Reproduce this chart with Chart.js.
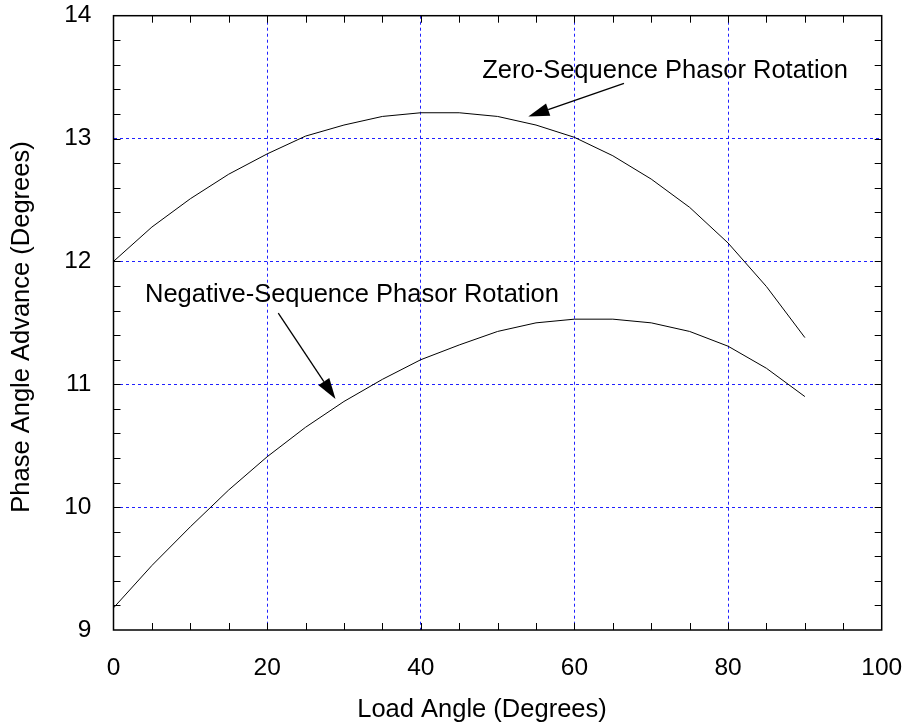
<!DOCTYPE html>
<html>
<head>
<meta charset="utf-8">
<script src="https://cdn.jsdelivr.net/npm/chart.js@4.4.0/dist/chart.umd.min.js"></script>
<style>
  html, body { margin: 0; padding: 0; background: #fff; }
  #wrap { width: 906px; height: 727px; }
</style>
</head>
<body>
<div id="wrap"><canvas id="phasorChart" width="906" height="727"></canvas></div>
<script>
// Data
const loadAngles = [0, 5, 10, 15, 20, 25, 30, 35, 40, 45, 50, 55, 60, 65, 70, 75, 80, 85, 90];
const zeroSeq = [12.0, 12.28, 12.51, 12.71, 12.875, 13.02, 13.11, 13.18, 13.21, 13.21,
  13.18, 13.11, 13.01, 12.86, 12.67, 12.44, 12.15, 11.795, 11.38];
const negSeq = [9.18, 9.525, 9.84, 10.14, 10.41, 10.65, 10.86, 11.04, 11.2, 11.32,
  11.43, 11.5, 11.53, 11.53, 11.5, 11.43, 11.31, 11.13, 10.9];

const xTicks = [0, 20, 40, 60, 80, 100];
const yTicks = [9, 10, 11, 12, 13, 14];

const xTitle = "Load Angle (Degrees)";
const yTitle = "Phase Angle Advance (Degrees)";

// Annotations, in data units
const labels = [
  { text: "Zero-Sequence Phasor Rotation", x: 48.0, y: 13.49 },
  { text: "Negative-Sequence Phasor Rotation", x: 4.1, y: 11.673 },
];
const arrows = [
  { from: [66.45, 13.45], to: [54.0, 13.18] },
  { from: [21.45, 11.58], to: [28.9, 10.88] },
];

const FONT = "'Liberation Sans', Arial, Helvetica, sans-serif";
const GRID_BLUE = "#2020ff";

function toPoints(ys) {
  return loadAngles.map((x, i) => ({ x: x, y: ys[i] }));
}

// frame, minor ticks, annotations and axis titles
const decorPlugin = {
  id: "decor",
  afterDraw(chart) {
    const ctx = chart.ctx;
    const area = chart.chartArea;
    const xs = chart.scales.x;
    const ys = chart.scales.y;
    ctx.save();

    // inward ticks on all four sides
    ctx.strokeStyle = "#000";
    ctx.lineWidth = 1;
    ctx.beginPath();
    for (let v = 5; v < 100; v += 5) {
      const px = Math.round(xs.getPixelForValue(v)) + 0.5;
      ctx.moveTo(px, area.bottom);
      ctx.lineTo(px, area.bottom - 7);
      ctx.moveTo(px, area.top);
      ctx.lineTo(px, area.top + 7);
    }
    for (let k = 1; k < 25; k++) {
      const py = Math.round(ys.getPixelForValue(9 + k * 0.2)) + 0.5;
      ctx.moveTo(area.left, py);
      ctx.lineTo(area.left + 7, py);
      ctx.moveTo(area.right, py);
      ctx.lineTo(area.right - 7, py);
    }
    ctx.stroke();

    // frame
    ctx.lineWidth = 1.5;
    ctx.strokeRect(area.left, area.top, area.right - area.left, area.bottom - area.top);

    // arrows
    ctx.fillStyle = "#000";
    ctx.lineWidth = 1.3;
    arrows.forEach((a) => {
      const x1 = xs.getPixelForValue(a.from[0]);
      const y1 = ys.getPixelForValue(a.from[1]);
      const x2 = xs.getPixelForValue(a.to[0]);
      const y2 = ys.getPixelForValue(a.to[1]);
      const ang = Math.atan2(y2 - y1, x2 - x1);
      const len = 21;
      const half = 6.5;
      const bx = x2 - len * Math.cos(ang);
      const by = y2 - len * Math.sin(ang);
      ctx.beginPath();
      ctx.moveTo(x1, y1);
      ctx.lineTo(bx, by);
      ctx.stroke();
      ctx.beginPath();
      ctx.moveTo(x2, y2);
      ctx.lineTo(bx + half * Math.sin(ang), by - half * Math.cos(ang));
      ctx.lineTo(bx - half * Math.sin(ang), by + half * Math.cos(ang));
      ctx.closePath();
      ctx.fill();
    });

    // annotation text
    ctx.font = "25.5px " + FONT;
    ctx.textAlign = "left";
    ctx.textBaseline = "alphabetic";
    labels.forEach((l) => {
      ctx.fillText(l.text, xs.getPixelForValue(l.x), ys.getPixelForValue(l.y));
    });

    // axis titles
    ctx.textAlign = "center";
    ctx.textBaseline = "middle";
    ctx.fillText(xTitle, 482, 710);
    ctx.translate(22, 327);
    ctx.rotate(-Math.PI / 2);
    ctx.fillText(yTitle, 0, 0);

    ctx.restore();
  },
};

function hideEdges(edges) {
  return (c) => (edges.includes(c.tick.value) ? "rgba(0,0,0,0)" : GRID_BLUE);
}

// drop the extra room Chart.js reserves for overhanging labels
function noLabelPadding(s) {
  s.paddingTop = 0;
  s.paddingBottom = 0;
  s.paddingLeft = 0;
  s.paddingRight = 0;
}

const phasorChart = new Chart(document.getElementById("phasorChart"), {
  type: "line",
  data: {
    datasets: [
      {
        label: "Zero-Sequence",
        data: toPoints(zeroSeq),
        borderColor: "#000",
        borderWidth: 1,
        pointRadius: 0,
        tension: 0,
      },
      {
        label: "Negative-Sequence",
        data: toPoints(negSeq),
        borderColor: "#000",
        borderWidth: 1,
        pointRadius: 0,
        tension: 0,
      },
    ],
  },
  options: {
    responsive: false,
    animation: false,
    events: [],
    layout: {
      padding: { left: 0, right: 24.3, top: 15.7, bottom: 0 },
    },
    plugins: {
      legend: { display: false },
      tooltip: { enabled: false },
    },
    scales: {
      x: {
        type: "linear",
        min: 0,
        max: 100,
        afterBuildTicks: (s) => { s.ticks = xTicks.map((v) => ({ value: v })); },
        afterFit: (s) => { s.height = 97; noLabelPadding(s); },
        grid: { color: hideEdges([0, 100]), lineWidth: 1, drawTicks: false },
        border: { display: false, dash: [3, 3] },
        ticks: {
          padding: 24,
          color: "#000",
          font: { family: FONT, size: 24.5 },
          maxRotation: 0,
        },
      },
      y: {
        type: "linear",
        min: 9,
        max: 14,
        afterBuildTicks: (s) => { s.ticks = yTicks.map((v) => ({ value: v })); },
        afterFit: (s) => { s.width = 113.5; noLabelPadding(s); },
        grid: { color: hideEdges([9, 14]), lineWidth: 1, drawTicks: false },
        border: { display: false, dash: [3, 3] },
        ticks: {
          padding: 22,
          color: "#000",
          font: { family: FONT, size: 24.5 },
        },
      },
    },
  },
  plugins: [decorPlugin],
});
</script>
</body>
</html>
